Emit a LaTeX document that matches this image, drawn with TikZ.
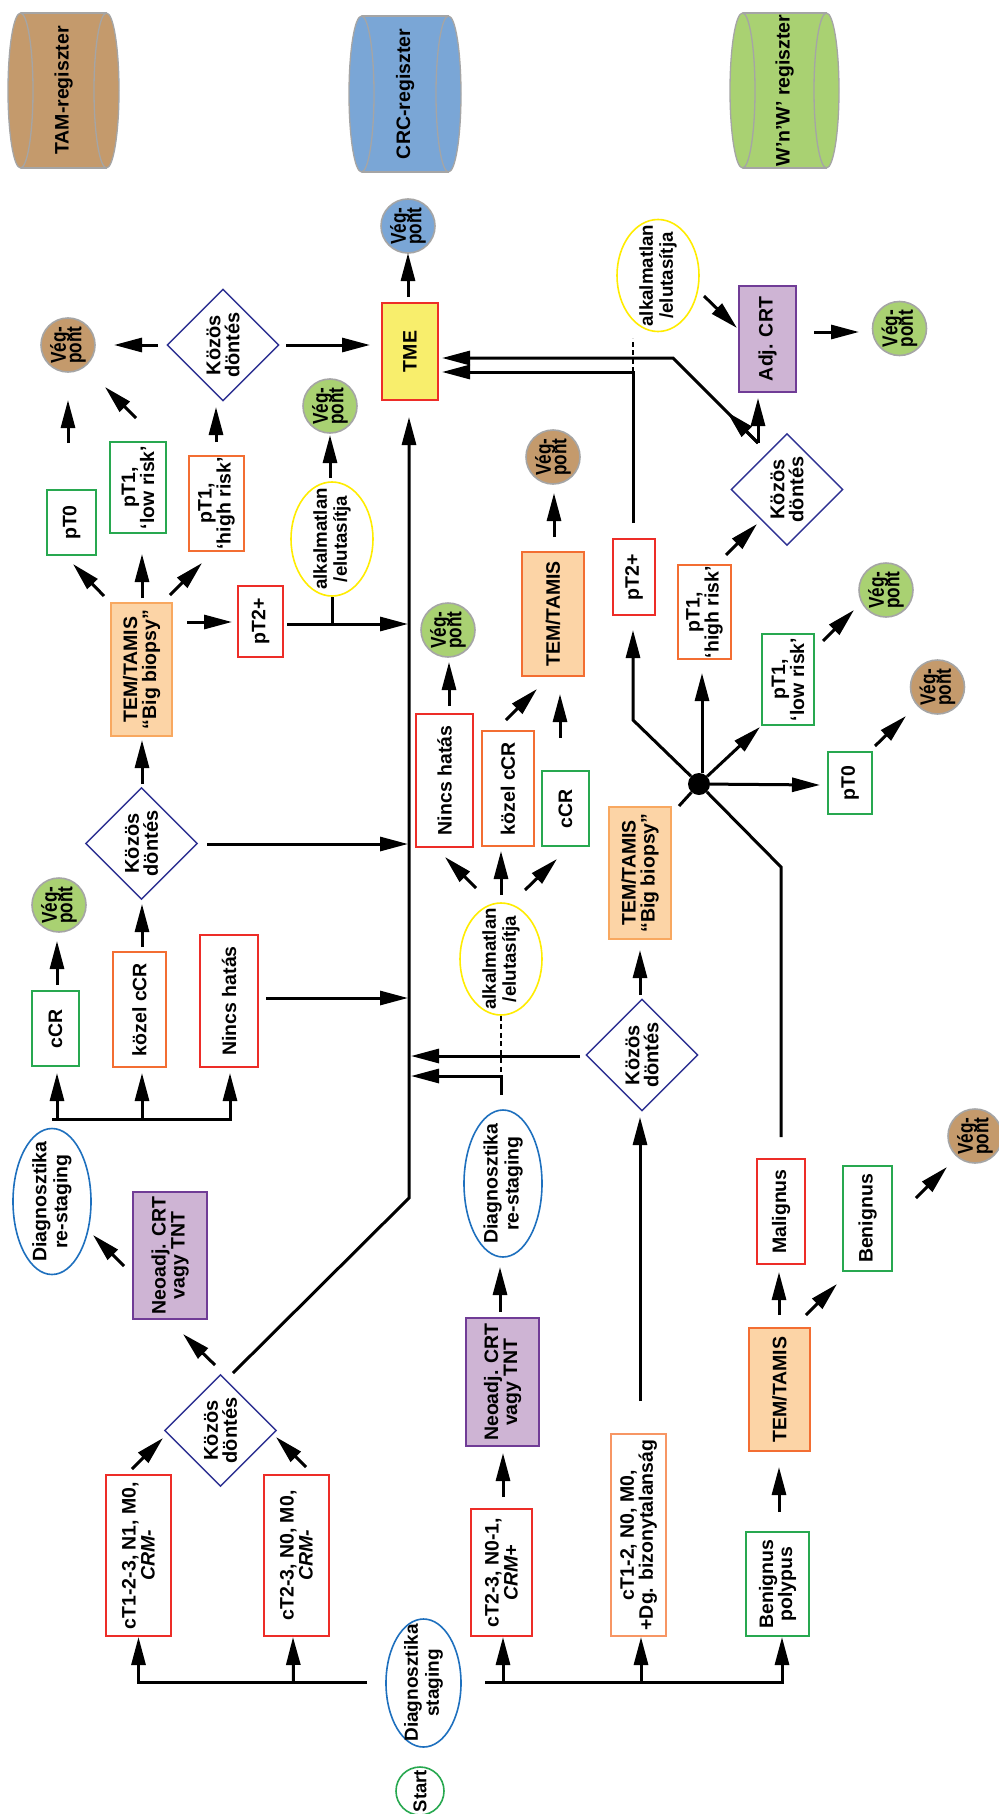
\documentclass[tikz,border=0pt]{standalone}
\usepackage{fontspec}
\setmainfont{Liberation Sans}
\usepackage{graphicx}
\usetikzlibrary{shapes.geometric,arrows.meta,calc}
\definecolor{redB}{RGB}{237,45,40}
\definecolor{greenB}{RGB}{40,168,80}
\definecolor{orangeB}{RGB}{243,110,50}
\definecolor{lorangeB}{RGB}{248,168,96}
\definecolor{ctdB}{RGB}{247,150,100}
\definecolor{orangeF}{RGB}{252,212,166}
\definecolor{purpleF}{RGB}{206,180,212}
\definecolor{purpleB}{RGB}{112,60,150}
\definecolor{diaB}{RGB}{46,49,146}
\definecolor{blueE}{RGB}{30,112,190}
\definecolor{yellowE}{RGB}{255,236,0}
\definecolor{tmeF}{RGB}{248,238,108}
\definecolor{brownF}{RGB}{196,154,108}
\definecolor{greenF}{RGB}{169,209,114}
\definecolor{blueF}{RGB}{122,166,214}
\definecolor{grayB}{RGB}{165,165,165}
\newcommand\rbox[7]{\node[#6, minimum width={(#5-#4)*1pt}, minimum height={(#3-#2)*1pt}] (#1) at ({(#2+#3)/2},{(#4+#5)/2}) {#7};}
\newcommand\vpt{\scalebox{0.8}[1]{\fontsize{21.5}{15.6}\selectfont\bfseries\vbox{\lineskiplimit=-20pt\halign{\hfil##\hfil\cr Vég-\cr pont\cr}}}}
\newcommand\cyl[7]{%
  \fill[#6] ({#2+12.5},#4) rectangle ({#3-12.5},#5);
  \filldraw[fill=#6, draw=grayB, line width=1.3pt] ({#2+12.5},{(#4+#5)/2}) ellipse [x radius=12.5pt, y radius={(#5-#4)/2*1pt}];
  \filldraw[fill=#6, draw=grayB, line width=1.3pt] ({#3-12.5},{(#4+#5)/2}) ellipse [x radius=12.5pt, y radius={(#5-#4)/2*1pt}];
  \draw[grayB, line width=1.3pt] ({#2+12.5},#4) -- ({#3-12.5},#4) ({#2+12.5},#5) -- ({#3-12.5},#5);
  \node[tx] (#1) at ({(#2+#3)/2},{(#4+#5)/2}) {#7};}
\begin{document}
\begin{tikzpicture}[x=1pt, y=-1pt,
 tx/.style={rotate=90, inner sep=0pt, align=center, font=\bfseries\fontsize{19.5}{19}\selectfont},
 bx/.style={tx, rectangle, draw=#1, line width=1.8pt, fill=white},
 fbx/.style 2 args={tx, rectangle, draw=#1, fill=#2, line width=1.8pt},
 vpn/.style={circle, draw=grayB, line width=1.6pt, fill=#1, minimum size=54pt, inner sep=0pt, rotate=90},
 dec/.style={diamond, draw=diaB, line width=1.4pt, fill=white, minimum width=112pt, minimum height=112pt, tx, font=\bfseries\fontsize{20}{19}\selectfont},
 ell/.style={ellipse, draw=#1, line width=1.6pt, inner sep=0pt, rotate=90},
 etx/.style={rotate=90, inner sep=0pt, align=center, font=\bfseries\fontsize{18.7}{20}\selectfont},
 ln/.style={line width=3pt},
 arr/.style={line width=3pt, -{Triangle[length=28pt,width=14pt]}},
 dsh/.style={line width=2.6pt, dash pattern=on 5pt off 3.5pt}]
\fill[white] (0,0) rectangle (998,1814);
\useasboundingbox (0,0) rectangle (998,1814);
% registers
\cyl{tam}{8}{119}{13}{168}{brownF}{TAM-regiszter}
\cyl{crc}{349}{461}{16}{172}{blueF}{CRC-regiszter}
\cyl{wnw}{730}{839}{13}{168}{greenF}{W’n’W’ regiszter}
% boxes
\rbox{tme}{382}{438}{303}{400}{fbx={redB}{tmeF}}{TME}
\rbox{pTOa}{47}{96}{490}{555}{bx=greenB}{pT0}
\rbox{pTLa}{110}{166}{442}{533}{bx=greenB}{pT1,\\‘low risk’}
\rbox{pTHa}{189}{244}{456}{551}{bx=orangeB}{pT1,\\‘high risk’}
\rbox{tembba}{111}{172}{603}{736}{fbx={lorangeB}{orangeF}}{TEM/TAMIS\\“Big biopsy”}
\rbox{pTTa}{238}{283}{586}{657}{bx=redB}{pT2+}
\rbox{nincsb}{416}{473}{714}{847}{bx=redB}{Nincs hatás}
\rbox{kozelb}{482}{534}{731}{846}{bx=orangeB}{közel cCR}
\rbox{ccrb}{542}{589}{771}{846}{bx=greenB}{cCR}
\rbox{temb}{522}{584}{552}{676}{fbx={orangeB}{orangeF}}{TEM/TAMIS}
\rbox{ccra}{32}{79}{991}{1066}{bx=greenB}{cCR}
\rbox{kozela}{113}{166}{952}{1067}{bx=orangeB}{közel cCR}
\rbox{nincsa}{200}{258}{935}{1067}{bx=redB}{Nincs hatás}
\rbox{neoa}{133}{207}{1192}{1319}{fbx={purpleB}{purpleF}}{Neoadj. CRT\\vagy TNT}
\rbox{cta}{106}{171}{1475}{1636}{bx=redB}{cT1-2-3, N1, M0,\\\textit{CRM-}}
\rbox{ctb}{264}{329}{1475}{1636}{bx=redB}{cT2-3, N0, M0,\\\textit{CRM-}}
\rbox{ctc}{471}{532}{1509}{1636}{bx=redB}{cT2-3, N0-1,\\\textit{CRM+}}
\rbox{neob}{466}{539}{1318}{1446}{fbx={purpleB}{purpleF}}{Neoadj. CRT\\vagy TNT}
\rbox{ctd}{611}{666}{1434}{1636}{bx=ctdB}{cT1-2, N0, M0,\\+Dg. bizonytalanság}
\rbox{benpol}{746}{809}{1532}{1636}{bx=greenB}{Benignus\\polypus}
\rbox{temc}{749}{810}{1328}{1451}{fbx={orangeB}{orangeF}}{TEM/TAMIS}
\rbox{malig}{757}{805}{1159}{1264}{bx=redB}{Malignus}
\rbox{benig}{843}{892}{1166}{1271}{bx=greenB}{Benignus}
\rbox{tembbb}{609}{671}{807}{939}{fbx={lorangeB}{orangeF}}{TEM/TAMIS\\“Big biopsy”}
\rbox{pTTb}{613}{655}{539}{615}{bx=redB}{pT2+}
\rbox{pTHb}{678}{731}{565}{659}{bx=orangeB}{pT1,\\‘high risk’}
\rbox{pTLb}{762}{814}{634}{725}{bx=greenB}{pT1,\\‘low risk’}
\rbox{pTOb}{828}{872}{752}{814}{bx=greenB}{pT0}
\rbox{adj}{739}{796}{286}{392}{fbx={purpleB}{purpleF}}{Adj. CRT}
% end points
\node[vpn=brownF] (vp1) at (68,345) {\vpt};
\node[vpn=blueF] (vp2) at (408,226) {\vpt};
\node[vpn=greenF] (vp3) at (330,406) {\vpt};
\node[vpn=greenF] (vp4) at (448,630) {\vpt};
\node[vpn=greenF] (vp5) at (59,905) {\vpt};
\node[vpn=brownF] (vp6) at (553,457) {\vpt};
\node[vpn=greenF] (vp7) at (899.5,328.5) {\vpt};
\node[vpn=greenF] (vp8) at (886,590) {\vpt};
\node[vpn=brownF] (vp9) at (937.5,687) {\vpt};
\node[vpn=brownF] (vp10) at (975,1136) {\vpt};
\node[circle, draw=greenB, line width=1.6pt, minimum size=48pt, inner sep=0pt, rotate=90, font=\bfseries\fontsize{18.5}{18}\selectfont] (start) at (420,1791) {Start};
% decisions
\node[dec] (d1) at (223,345) {Közös\\döntés};
\node[dec] (d2) at (141.5,843.5) {Közös\\döntés};
\node[dec] (d3) at (220.5,1430.5) {Közös\\döntés};
\node[dec] (d4) at (642,1055) {Közös\\döntés};
\node[dec] (d5) at (787,489.5) {Közös\\döntés};
% ellipses
\node[ell=yellowE, minimum width=114pt, minimum height=82pt] (alk1) at (332,539) {};
\node[etx] (alk1t) at (alk1) {alkalmatlan\\/elutasítja};
\node[ell=yellowE, minimum width=112pt, minimum height=82pt] (alk2) at (501,959) {};
\node[etx] (alk2t) at (alk2) {alkalmatlan\\/elutasítja};
\node[ell=yellowE, minimum width=112pt, minimum height=82pt] (alk3) at (658,275.5) {};
\node[etx] (alk3t) at (alk3) {alkalmatlan\\/elutasítja};
\node[ell=blueE, minimum width=146pt, minimum height=78pt] (diag1) at (52,1201.5) {};
\node[etx, font=\bfseries\fontsize{19.5}{21}\selectfont] (diag1t) at (diag1) {Diagnosztika\\re-staging};
\node[ell=blueE, minimum width=147pt, minimum height=78pt] (diag2) at (503,1183.5) {};
\node[etx, font=\bfseries\fontsize{19.5}{21}\selectfont] (diag2t) at (diag2) {Diagnosztika\\re-staging};
\node[ell=blueE, minimum width=128pt, minimum height=75pt] (diagst) at (423.5,1683) {};
\node[etx, font=\bfseries\fontsize{19}{21}\selectfont] (diagstt) at (diagst) {Diagnosztika\\staging};
\node[circle, fill=black, minimum size=22pt, inner sep=0pt] (hub) at (699,784) {};
% junctions
\coordinate (jA) at (408,624);
\coordinate (jAb) at (332,624);
\coordinate (jB) at (408,844);
\coordinate (jC) at (408,998);
\coordinate (jD) at (411,1056);
\coordinate (jE) at (411,1076);
\coordinate (jE2) at (501,1076);
\coordinate (jF) at (409,1198);
\coordinate (jH) at (633,720);
\coordinate (jM) at (781,867);
\coordinate (jP) at (633,372);
\coordinate (jQ) at (673,358);
\coordinate (bua) at (52,1119);
\coordinate (bub) at (230,1119);
\coordinate (bsa) at (138.5,1682);
\coordinate (bsb) at (367,1682);
\coordinate (bsc) at (485,1682);
\coordinate (bsd) at (782,1682);
% connectors: top
\draw[arr] ($(d1)+(-65,0)$) -- ($(vp1)+(46,0)$);
\draw[arr] ($(d1)+(63,0)$) -- ($(tme)+(-40,-6.5)$);
\draw[arr] ($(tme)+(-2,-54.5)$) -- ($(vp2)+(0,27)$);
\draw[arr] ($(alk1)+(-2,-61)$) -- ($(vp3)+(0,29)$);
\draw[arr] ($(pTOa)+(-3.5,-79.5)$) -- ($(vp1)+(0,55)$);
\draw[arr] ($(pTLa)+(-2,-69.5)$) -- ($(vp1)+(37,42)$);
\draw[arr] ($(pTHa)+(-0.5,-61.5)$) -- ($(d1)+(-7,62)$);
\draw[arr] ($(tembba)+(-37.5,-73.5)$) -- ($(pTOa)+(1.5,41.5)$);
\draw[arr] ($(tembba)+(0.5,-71.5)$) -- ($(pTLa)+(4,66.5)$);
\draw[arr] ($(tembba)+(28.5,-74.5)$) -- ($(pTHa)+(-14.5,59.5)$);
\draw[arr] ($(tembba)+(45.5,-47.5)$) -- ($(pTTa)+(-28.5,0.5)$);
\draw[arr] ($(pTTa)+(26.5,2.5)$) -- (jA);
\draw[ln] (jAb) -- (alk1.west);
\draw[arr] ($(d2)+(0.5,-59.5)$) -- ($(tembba)+(0.5,70.5)$);
\draw[arr] ($(d2)+(65.5,0.5)$) -- (jB);
\draw[arr] ($(nincsb)+(4.5,-74.5)$) -- ($(vp4)+(1,32)$);
\draw[arr] ($(ccra)+(1.5,-43.5)$) -- ($(vp5)+(-2,36)$);
\draw[arr] ($(kozela)+(2.5,-62.5)$) -- ($(d2)+(0.5,60.5)$);
\draw[arr] ($(nincsa)+(37,-3)$) -- (jC);
% bus 1
\draw[arr] (bua) -- (bub) -- ($(nincsa)+(1,72)$);
\draw[arr] ($(bua)+(5,0)$) -- ($(ccra)+(1.5,44.5)$);
\draw[arr] ($(bua)+(90,0)$) -- ($(kozela)+(2.5,63.5)$);
\draw[arr] ($(neoa)+(-46,10.5)$) -- ($(diag1)+(41,33.5)$);
% main line to TME
\draw[arr] ($(d3)+(12.5,-57.5)$) -- (jF) -- ($(tme)+(-1,65.5)$);
\draw[arr] ($(d3)+(-5.5,-65.5)$) -- ($(neoa)+(13,78.5)$);
\draw[arr] ($(cta)+(-6.5,-86.5)$) -- ($(d3)+(-57.5,7.5)$);
\draw[arr] ($(ctb)+(9.5,-88.5)$) -- ($(d3)+(55.5,6.5)$);
% bus 2
\draw[arr] (bsb) -- (bsa) -- ($(cta)+(0,81.5)$);
\draw[arr] ($(bsa)+(155,0)$) -- ($(ctb)+(-3.5,81.5)$);
\draw[arr] (bsc) -- (bsd) -- ($(benpol)+(4.5,53)$);
\draw[arr] ($(bsc)+(18,0)$) -- ($(ctc)+(1.5,64.5)$);
\draw[arr] ($(bsc)+(156,0)$) -- ($(ctd)+(2.5,102)$);
% middle column
\draw[arr] ($(ctc)+(1.5,-75.5)$) -- ($(neob)+(0.5,71)$);
\draw[arr] ($(neob)+(-2.5,-70)$) -- ($(diag2)+(-3,83.5)$);
\draw[arr] ($(diag2)+(-2,-88.5)$) -- (jE2) -- (jE);
\draw[dsh] (alk2.west) -- (jE2);
\draw[arr] ($(d4)+(-62,1)$) -- (jD);
\draw[arr] ($(ctd)+(1.5,-134)$) -- ($(d4)+(-2,62)$);
\draw[arr] ($(d4)+(-2,-60)$) -- ($(tembbb)+(0,77)$);
\draw[arr] ($(alk2)+(-25,-71)$) -- ($(nincsb)+(0.5,76.5)$);
\draw[arr] ($(alk2)+(0,-64)$) -- ($(kozelb)+(-7,62.5)$);
\draw[arr] ($(alk2)+(24,-69)$) -- ($(ccrb)+(-8.5,50.5)$);
\draw[arr] ($(kozelb)+(-2,-68.5)$) -- ($(temb)+(-16,75)$);
\draw[arr] ($(ccrb)+(-5.5,-70.5)$) -- ($(temb)+(7,80)$);
\draw[arr] ($(temb)+(1,-77)$) -- ($(vp6)+(1,36)$);
% hub
\draw[ln] ($(tembbb)+(39,-67)$) -- (hub);
\draw[arr] (hub) -- ($(pTOb)+(-30,2)$);
\draw[arr] (hub) -- ($(pTLb)+(-28,47.5)$);
\draw[arr] ($(hub)+(3,-11)$) -- ($(pTHb)+(-2.5,61)$);
\draw[arr] (hub) -- (jH) -- ($(pTTb)+(-1,53)$);
\draw[ln] (hub) -- (jM) -- ($(malig)+(0,-74.5)$);
% right upper part
\draw[arr] ($(pTTb)+(-1,-54)$) -- (jP) -- ($(tme)+(32,20.5)$);
\draw[dsh] (jP) -- ($(alk3)+(-25,62.5)$);
\draw[arr] ($(d5)+(-29,-46.5)$) -- (jQ) -- ($(tme)+(32,6.5)$);
\draw[arr] ($(d5)+(-29,-46.5)$) -- ($(d5)+(-60,-77.5)$);
\draw[arr] ($(d5)+(-29,-46.5)$) -- ($(adj)+(-9.5,59)$);
\draw[arr] ($(alk3)+(46,20.5)$) -- ($(adj)+(-30.5,-11)$);
\draw[arr] ($(adj)+(46.5,-7)$) -- ($(vp7)+(-40.5,3.5)$);
\draw[arr] ($(pTHb)+(21.5,-57)$) -- ($(d5)+(-30,34.5)$);
\draw[arr] ($(pTLb)+(35,-38.5)$) -- ($(vp8)+(-32,20)$);
\draw[arr] ($(pTOb)+(25,-37)$) -- ($(vp9)+(-31.5,29)$);
% bottom right
\draw[arr] ($(temc)+(-0.5,-74.5)$) -- ($(malig)+(-2,60.5)$);
\draw[arr] ($(temc)+(26.5,-74.5)$) -- ($(benig)+(-30.5,65.5)$);
\draw[arr] ($(benig)+(48.5,-20.5)$) -- ($(vp10)+(-28,31)$);
\draw[arr] ($(benpol)+(1.5,-72)$) -- ($(temc)+(-0.5,77.5)$);
\end{tikzpicture}
\end{document}
